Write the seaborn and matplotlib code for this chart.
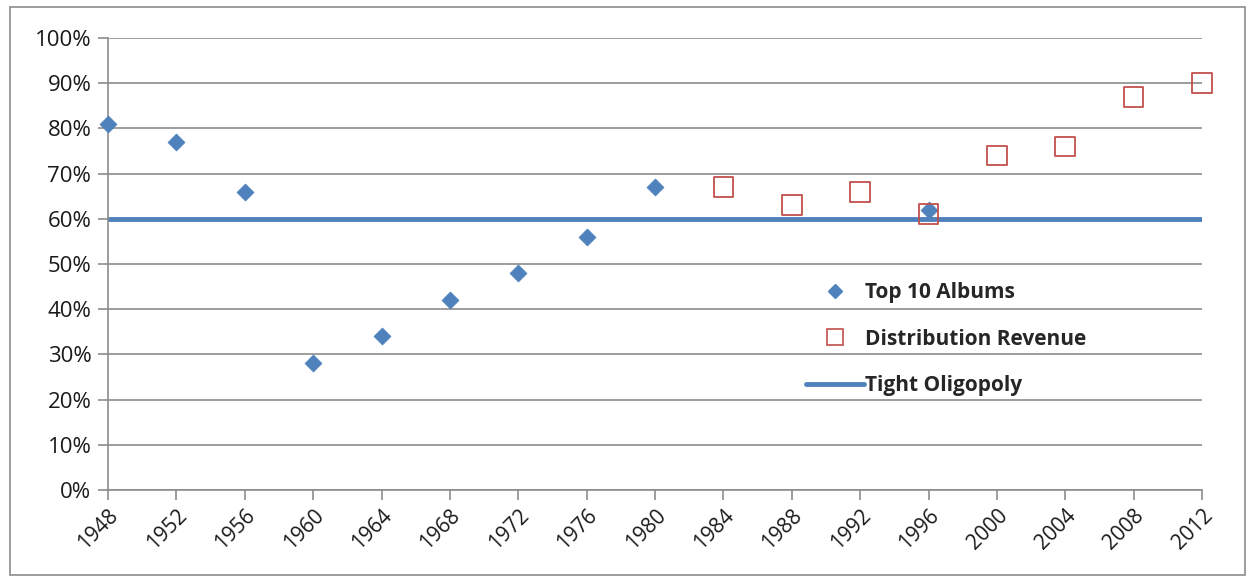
import pandas as pd
import matplotlib.pyplot as plt
import seaborn as sns
from matplotlib.patches import Rectangle
from matplotlib.lines import Line2D
from matplotlib.ticker import PercentFormatter

# Data
years = [1948, 1952, 1956, 1960, 1964, 1968, 1972, 1976, 1980, 1984, 1988, 1992, 1996, 2000, 2004, 2008, 2012]
album_years = [1948, 1952, 1956, 1960, 1964, 1968, 1972, 1976, 1980, 1996]
album_share = [81, 77, 66, 28, 34, 42, 48, 56, 67, 62]
revenue_years = [1984, 1988, 1992, 1996, 2000, 2004, 2008, 2012]
revenue_share = [67, 63, 66, 61, 74, 76, 87, 90]
oligopoly_level = 60

albums = pd.DataFrame({'Year': album_years, 'Share': album_share})
revenue = pd.DataFrame({'Year': revenue_years, 'Share': revenue_share})

sns.set_style('white')
plt.rcParams['font.family'] = ['Open Sans', 'DejaVu Sans']

fig = plt.figure(figsize=(12.53, 5.82), dpi=100)
ax = fig.add_axes([108 / 1253, 1 - 490 / 582, (1202 - 108) / 1253, (490 - 38) / 582])

# outer frame around the whole chart
fig.patches.append(Rectangle((10 / 1253, 7 / 582), 1235 / 1253, 568 / 582,
                             transform=fig.transFigure, fill=False,
                             edgecolor='#8c8c8c', linewidth=1.2))

blue = '#4F81BD'
red = '#C0504D'

ax.axhline(oligopoly_level, color=blue, linewidth=3.5, zorder=2)
sns.scatterplot(data=albums, x='Year', y='Share', marker='D', s=75, color=blue,
                edgecolor=blue, linewidth=0.5, ax=ax, zorder=3, clip_on=False)
sns.scatterplot(data=revenue, x='Year', y='Share', marker='s', s=200, facecolor='none',
                edgecolor=red, linewidth=1.3, ax=ax, zorder=3, clip_on=False)

ax.set_xlim(1948, 2012)
ax.set_ylim(0, 100)
ax.set_xticks(years)
ax.set_yticks(range(0, 101, 10))
ax.yaxis.set_major_formatter(PercentFormatter(decimals=0))
ax.set_xlabel('')
ax.set_ylabel('')
ax.grid(axis='y', color='#8c8c8c', linewidth=1.2)
ax.grid(axis='x', visible=False)
ax.set_axisbelow(True)

for side in ['top', 'right']:
    ax.spines[side].set_visible(False)
for side in ['left', 'bottom']:
    ax.spines[side].set_color('#8c8c8c')
    ax.spines[side].set_linewidth(1.2)

ax.tick_params(axis='both', which='major', length=7, width=1.2, color='#8c8c8c',
               direction='out', labelsize=15, labelcolor='#1a1a1a', left=True, bottom=True)
ax.tick_params(axis='y', pad=5, labelsize=16)
ax.tick_params(axis='x', pad=4)
plt.setp(ax.get_xticklabels(), rotation=45, ha='right', rotation_mode='anchor')

handles = [
    Line2D([], [], linestyle='none', marker='D', markersize=7, color=blue),
    Line2D([], [], linestyle='none', marker='s', markersize=11, markerfacecolor='none',
           markeredgecolor=red, markeredgewidth=1.2),
    Line2D([], [], color=blue, linewidth=3.5),
]
labels = ['Top 10 Albums', 'Distribution Revenue', 'Tight Oligopoly']
ax.legend(handles, labels, loc='upper left', bbox_to_anchor=(0.63, 0.478), frameon=False,
          prop={'weight': 'bold', 'size': 15}, labelspacing=1.22,
          handlelength=2.8, handletextpad=0.05, borderaxespad=0)

fig.savefig('out.png', dpi=100)
